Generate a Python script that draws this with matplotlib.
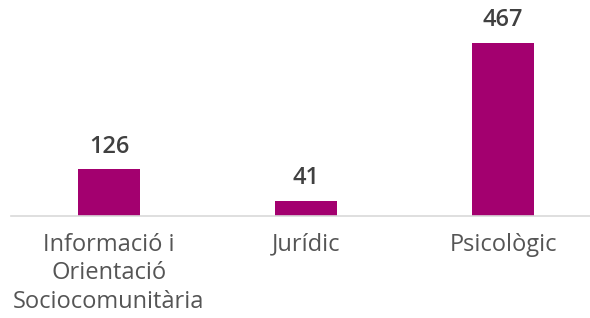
import matplotlib.pyplot as plt

# Data
categories = ['Informació i\nOrientació\nSociocomunitària', 'Jurídic', 'Psicològic']
values = [126, 41, 467]

plt.rcParams['font.family'] = ['Open Sans', 'DejaVu Sans']

fig = plt.figure(figsize=(5.9, 3.18), dpi=100)
ax = fig.add_axes([10.5 / 590, 102 / 318, 591 / 590, 216 / 318])

x = range(len(categories))
bars = ax.bar(x, values, width=0.315, color='#A3006F')

# Value labels above bars
for xi, v in zip(x, values):
    ax.annotate(str(v), (xi, v), xytext=(0, 12), textcoords='offset points',
                ha='center', va='baseline', fontsize=17, fontweight='semibold',
                color='#404040')

ax.set_xlim(-0.5, 2.5)
ax.set_ylim(0, 583)
ax.set_xticks(list(x))
ax.set_xticklabels(categories, fontsize=17, color='#555555', linespacing=1.25)
ax.tick_params(axis='x', length=0, pad=12)
ax.set_yticks([])

for side in ['top', 'left', 'right']:
    ax.spines[side].set_visible(False)
ax.spines['bottom'].set_color('#D9D9D9')
ax.spines['bottom'].set_linewidth(1.2)

fig.savefig('out.png', dpi=100)
